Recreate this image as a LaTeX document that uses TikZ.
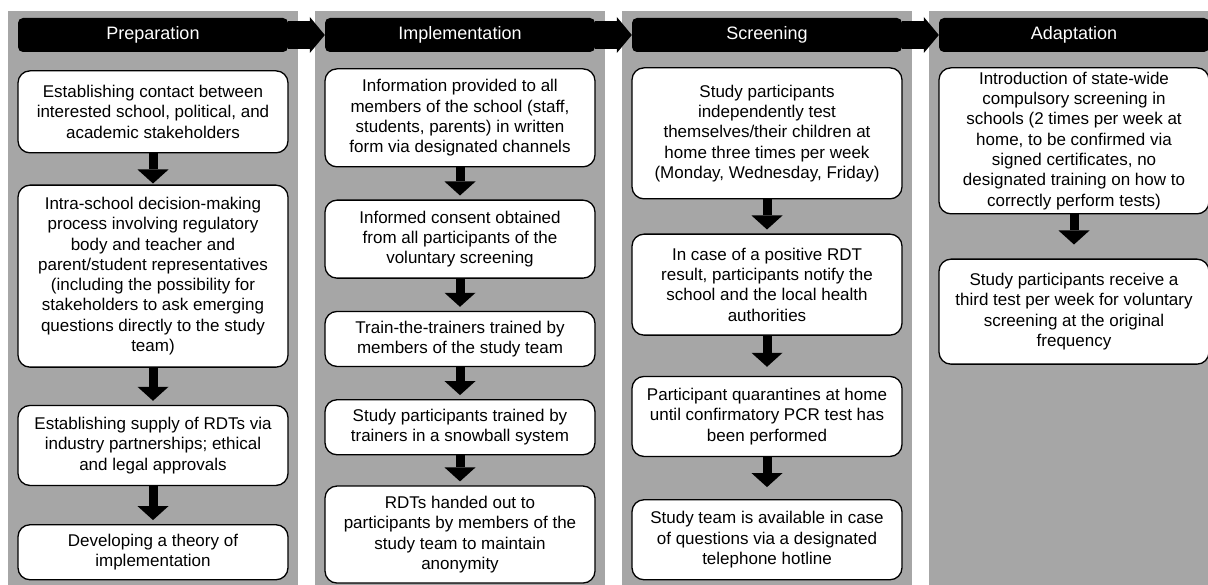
\documentclass[tikz,border=0pt]{standalone}
\usepackage{fontspec}
\setmainfont{Liberation Sans}
\usepackage{tikz}
\usetikzlibrary{positioning,arrows.meta}
\definecolor{lanegray}{HTML}{A6A6A6}
\tikzstyle{lane} = [rectangle, fill=lanegray, minimum width=290pt, minimum height=580pt, inner sep=0pt]
\tikzstyle{phase} = [rectangle, rounded corners=5pt, fill=black, text=white, minimum width=270pt, minimum height=34pt, inner sep=0pt, font=\fontsize{18}{20}\selectfont]
\tikzstyle{stepbox} = [rectangle, rounded corners=12pt, draw=black, line width=1.3pt, fill=white, minimum width=270pt, align=center, inner sep=2pt, font=\fontsize{17}{20.3}\selectfont]
\tikzstyle{flow} = [draw, line width=9pt, -{Triangle[width=31pt,length=14pt,line width=0pt]}, shorten >=4pt]
\tikzstyle{next} = [draw, line width=28pt, -{Triangle[width=36pt,length=15pt,line width=0pt]}]

\begin{document}
\begin{tikzpicture}[x=1pt, y=-1pt]
			\useasboundingbox (0,0) rectangle (1208,585);
			% Place lanes
			\node [lane] (l1) at (153,301) {};
			\node [lane] (l2) at (460,301) {};
			\node [lane] (l3) at (767,301) {};
			\node [lane] (l4) at (1074,301) {};
			% Place headers
			\node [phase] (h1) at (153,35) {Preparation};
			\node [phase] (h2) at (460,35) {Implementation};
			\node [phase] (h3) at (767,35) {Screening};
			\node [phase] (h4) at (1074,35) {Adaptation};
			% Place nodes
			\node [stepbox, minimum height=82pt, below=18pt of h1] (p1) {Establishing contact between\\interested school, political, and\\academic stakeholders};
			\node [stepbox, minimum height=182pt, below=31pt of p1] (p2) {Intra-school decision-making\\process involving regulatory\\body and teacher and\\parent/student representatives\\(including the possibility for\\stakeholders to ask emerging\\questions directly to the study\\team)};
			\node [stepbox, minimum height=80pt, below=37pt of p2] (p3) {Establishing supply of RDTs via\\industry partnerships; ethical\\and legal approvals};
			\node [stepbox, minimum height=55pt, below=38pt of p3] (p4) {Developing a theory of\\implementation};
			\node [stepbox, minimum height=98pt, below=16pt of h2] (i1) {Information provided to all\\members of the school (staff,\\students, parents) in written\\form via designated channels};
			\node [stepbox, minimum height=78pt, below=32pt of i1] (i2) {Informed consent obtained\\from all participants of the\\voluntary screening};
			\node [stepbox, minimum height=55pt, below=32pt of i2] (i3) {Train-the-trainers trained by\\members of the study team};
			\node [stepbox, minimum height=55pt, below=32pt of i3] (i4) {Study participants trained by\\trainers in a snowball system};
			\node [stepbox, minimum height=97pt, below=30pt of i4] (i5) {RDTs handed out to\\participants by members of the\\study team to maintain\\anonymity};
			\node [stepbox, minimum height=131pt, below=15pt of h3] (s1) {Study participants\\independently test\\themselves/their children at\\home three times per week\\(Monday, Wednesday, Friday)};
			\node [stepbox, minimum height=101pt, below=34pt of s1] (s2) {In case of a positive RDT\\result, participants notify the\\school and the local health\\authorities};
			\node [stepbox, minimum height=80pt, below=40pt of s2] (s3) {Participant quarantines at home\\until confirmatory PCR test has\\been performed};
			\node [stepbox, minimum height=80pt, below=42pt of s3] (s4) {Study team is available in case\\of questions via a designated\\telephone hotline};
			\node [stepbox, minimum height=146pt, below=15pt of h4] (a1) {Introduction of state-wide\\compulsory screening in\\schools (2 times per week at\\home, to be confirmed via\\signed certificates, no\\designated training on how to\\correctly perform tests)};
			\node [stepbox, minimum height=105pt, below=44pt of a1] (a2) {Study participants receive a\\third test per week for voluntary\\screening at the original\\frequency};
			% Draw edges
			\path [next] (h1.east) -- (h2.west);
			\path [next] (h2.east) -- (h3.west);
			\path [next] (h3.east) -- (h4.west);
			\path [flow, shorten >=1pt] (p1.south) -- (p2.north);
			\path [flow] (p2.south) -- (p3.north);
			\path [flow] (p3.south) -- (p4.north);
			\path [flow] (i1.south) -- (i2.north);
			\path [flow] (i2.south) -- (i3.north);
			\path [flow] (i3.south) -- (i4.north);
			\path [flow] (i4.south) -- (i5.north);
			\path [flow] (s1.south) -- (s2.north);
			\path [flow, shorten >=9pt] (s2.south) -- (s3.north);
			\path [flow, shorten >=12pt] (s3.south) -- (s4.north);
			\path [flow, shorten >=14pt] (a1.south) -- (a2.north);
\end{tikzpicture}
\end{document}
